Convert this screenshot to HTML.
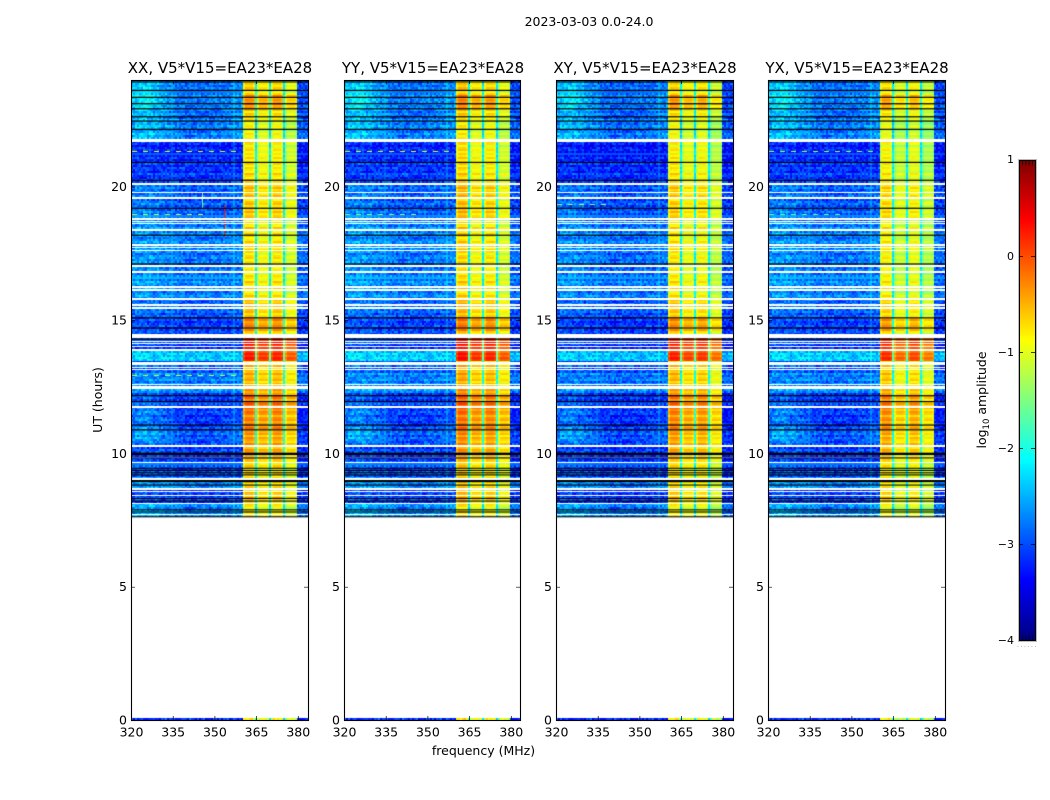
<!DOCTYPE html>
<html><head><meta charset="utf-8">
<style>
html,body{margin:0;padding:0;background:#fff;}
#fig{position:relative;width:1050px;height:800px;overflow:hidden;background:#fff;}
canvas{position:absolute;display:block;}
svg{position:absolute;left:0;top:0;}
text{font-family:"DejaVu Sans","Liberation Sans",sans-serif;fill:#000;}
</style></head>
<body>
<div id="fig">
<svg id="overlay" width="1050" height="800"></svg>
</div>
<script>
// ---- data ----
const panelTitles = ["XX, V5*V15=EA23*EA28","YY, V5*V15=EA23*EA28","XY, V5*V15=EA23*EA28","YX, V5*V15=EA23*EA28"];
const xTicks = [320,335,350,365,380];
const yTicks = [0,5,10,15,20];
const cbTicks = [1,0,-1,-2,-3,-4];
// time segments: upper edge in UT hours
const segHours = [23.96,23.62,23.36,22.87,22.5,21.75,20.93,20.06,18.75,17.62,16.69,15.75,15.07,14.5,14.29,13.87,13.42,12.94,12.19,11.62,10.87,10.31,9.67,9.07,8.62,8.06];
// log10 amplitude inside the on-band block per segment
const segOnBand = [-0.85,-0.8,-0.45,-0.8,-1.05,-0.92,-0.88,-0.75,-0.88,-0.88,-0.88,-0.75,-0.45,-0.7,0.15,0.05,-0.7,-0.65,-0.3,-0.4,-0.5,-0.6,-0.85,-0.8,-0.7,-0.95];
// log10 amplitude of the off-band background per segment
const segOffBand = [-3.0,-3.0,-2.9,-2.95,-2.9,-3.25,-3.15,-3.0,-2.8,-2.85,-2.8,-3.0,-3.15,-3.0,-3.15,-2.45,-3.0,-2.8,-3.15,-3.2,-3.05,-3.15,-3.05,-2.8,-3.1,-2.8];
// strength of the low-frequency glow per segment
const segGlow = [0.5,0.55,0.6,0.5,0.4,0.05,0.05,0.2,0.15,0.2,0.15,0.15,0.1,0.1,0.1,0.1,0.1,0.1,0.2,0.4,0.45,0.1,0.1,0.2,0.1,0.25];
// glow shape versus frequency, one value per 5 MHz from 320 MHz
const glowShape = [0.9,1.3,0.9,0.4,0.15,0.2,0.25,0.35,0.6];
// sub-bands of the bright block (MHz)
const subStart = [360.3,365.36,370.4,375.44];
const subEnd = [364.64,369.68,374.72,379.6];
// per-panel level offset of each sub-band
const xxSub = [0.16,-0.02,0.1,-0.18];
const yySub = [0.22,0.0,0.1,-0.18];
const xySub = [0.12,-0.08,0.0,-0.3];
const yxSub = [0.06,-0.25,-0.08,-0.35];
// per-panel off-band offset
const offPanel = [0,0.02,-0.05,0];
// hand-read texture lists (log10 amplitude deviations)
const chanTexture = [0.05,-0.12,0.1,-0.04,0.16,-0.16,0.02,0.08,-0.08,0.12,-0.02,-0.14,0.06,0.14,-0.1,0.03,-0.06,0.11,-0.13];
const timeTexture = [0.12,-0.1,0.22,-0.05,-0.2,0.08,0.18,-0.14,0.02,0.25,-0.18,-0.04,0.1,-0.22,0.15,0.0,-0.12,0.2,-0.08,0.06,-0.16,0.14,0.04,-0.24,0.09,0.17,-0.06];
const speckle = [0.2,-0.18,0.05,0.28,-0.3,0.12,-0.08,0.24,-0.22,0.0,0.32,-0.12,0.16,-0.26,0.08,-0.04,0.22,-0.34,0.14,0.03,-0.16,0.26,-0.06,-0.24,0.18,0.1,-0.14,0.3,-0.2,0.06,-0.1];
// flagged (white) integrations: UT hour, thickness in hours
const whiteHours = [21.72,20.09,19.76,19.58,18.79,18.7,18.6,18.39,17.81,17.71,17.61,17.03,16.8,16.25,16.13,15.8,15.56,15.44,14.41,14.19,14.1,14.01,13.9,13.39,13.23,13.15,12.59,12.49,11.75,10.29,9.85,9.66,9.06,8.66,8.55,8.41,8.13,7.7,7.56];
const whiteThick = [0.1,0.06,0.05,0.06,0.06,0.05,0.05,0.06,0.06,0.05,0.05,0.06,0.06,0.06,0.09,0.06,0.06,0.06,0.16,0.05,0.05,0.05,0.06,0.1,0.05,0.05,0.05,0.1,0.06,0.06,0.05,0.05,0.06,0.06,0.05,0.05,0.05,0.05,0.06];
// gap (black) integrations
const blackHours = [23.93,23.61,23.35,23.11,22.92,22.62,22.46,22.15,20.91,20.24,19.19,18.18,17.1,15.08,14.7,14.28,12.16,11.94,11.06,10.88,9.98,9.83,9.44,9.36,9.27,9.19,8.96,8.81,8.31,8.21,7.88,7.8,7.62];
const blackThick = [0.045,0.045,0.045,0.045,0.045,0.045,0.045,0.045,0.045,0.045,0.045,0.045,0.045,0.045,0.045,0.045,0.045,0.045,0.045,0.045,0.09,0.04,0.04,0.04,0.04,0.04,0.08,0.04,0.04,0.04,0.04,0.04,0.04];
// narrow RFI features
const rfiPanel = [0,0,0,1,3,0,1,3,0,2];
const rfiFreq = [345.5,353.6,320.5,320.5,320.5,320.5,320.5,320.5,320.5,320.5];
const rfiFreqEnd = [345.9,354.0,360,360,360,345,345,345,360,340];
const rfiStart = [19.2,18.1,21.3,21.3,21.3,18.92,18.92,18.92,12.9,19.3];
const rfiEnd = [19.75,19.3,21.35,21.35,21.35,18.97,18.97,18.97,12.95,19.35];
const rfiLevel = [-1.6,0.3,-1,-1,-1.3,-1.2,-1.4,-1.6,-1.2,-1.4];

// ---- layout ----
const panelLeft = [131,344,556,768];
const panelWidths = [177,176,177,177];
const plotTop = 80, plotH = 640;
const svgNS = "http://www.w3.org/2000/svg";
const svg = document.getElementById('overlay');
const fig = document.getElementById('fig');
const xOf = f => (f-320)*2.78;
const yOf = t => plotH - t*plotH/24;
const subs = [xxSub,yySub,xySub,yxSub];

function jet(v){
  const x = Math.min(1,Math.max(0,(v+4)/5));
  const c = t => Math.round(255*Math.min(1,Math.max(0,Math.min(4*t-1.5,-4*t+4.5))));
  return [c(x),c(x+0.25),c(x+0.5)];
}
function css(v){const j=jet(v);return 'rgb('+j[0]+','+j[1]+','+j[2]+')';}
function segIndex(t){
  let k=0;
  for(let i=0;i<segHours.length;i++){ if(t<=segHours[i]) k=i; }
  return k;
}
function add(tag,attrs,text){
  const e=document.createElementNS(svgNS,tag);
  for(const k in attrs) e.setAttribute(k,attrs[k]);
  if(text!==undefined) e.textContent=text;
  svg.appendChild(e);
  return e;
}
function cellValue(p,f,t,c,r){
  const s=segIndex(t);
  const noise=speckle[(c*5+r*11+c*r)%speckle.length];
  let band=-1;
  for(let i=0;i<4;i++){ if(f>=subStart[i]&&f<subEnd[i]) band=i; }
  if(band>=0){
    const edge=(f-subStart[band]<0.7)?-0.25:((subEnd[band]-f<0.7)?-0.12:0);
    return segOnBand[s]+subs[p][band]+edge+timeTexture[r%timeTexture.length]*0.9+noise*0.1;
  }
  if(f>=360.3&&f<379.6) return -2.15+(segOnBand[s]+0.8)*0.6+noise*0.5;
  let v=segOffBand[s]+offPanel[p]+timeTexture[r%timeTexture.length]*0.7+chanTexture[c%chanTexture.length]*0.25+noise;
  if(f<360.3){
    const g=(f-320)/5, i=Math.min(glowShape.length-2,Math.floor(g));
    v+=segGlow[s]*(glowShape[i]+(glowShape[i+1]-glowShape[i])*(g-i));
  } else { v-=0.05; }
  return v;
}

const chanW = 0.72, rowH = 0.075;
panelLeft.forEach(function(left,p){
  const panelW=panelWidths[p];
  const cv=document.createElement('canvas');
  
  
  cv.width=panelW; cv.height=plotH;
  cv.style.left=left+'px'; cv.style.top=plotTop+'px';
  fig.insertBefore(cv,svg);
  const g=cv.getContext('2d');
  g.fillStyle='#fff'; g.fillRect(0,0,panelW,plotH);
  const nc=Math.ceil(64/chanW);
  // data rows
  for(let r=0;7.6+r*rowH<24;r++){
    const t=7.6+r*rowH;
    const y0=Math.round(yOf(t+rowH)), y1=Math.round(yOf(t));
    for(let c=0;c<nc;c++){
      const f=320+c*chanW;
      const x0=Math.round(xOf(f)), x1=Math.round(xOf(f+chanW));
      g.fillStyle=css(cellValue(p,f+chanW/2,t,c,r));
      g.fillRect(x0,y0,x1-x0,y1-y0);
    }
  }
  // integration at 0 h along the axis
  for(let c=0;c<nc;c++){
    const f=320+c*chanW;
    const x0=Math.round(xOf(f)), x1=Math.round(xOf(f+chanW));
    g.fillStyle=css(cellValue(p,f+chanW/2,21,c,c));
    g.fillRect(x0,plotH-2,x1-x0,2);
  }
  // RFI
  rfiPanel.forEach(function(q,i){
    if(q!==p) return;
    g.fillStyle=css(rfiLevel[i]);
    const x0=xOf(rfiFreq[i]), w=xOf(rfiFreqEnd[i])-x0;
    const y0=yOf(rfiEnd[i]), h=yOf(rfiStart[i])-y0;
    if(w<5){ g.fillRect(Math.round(x0),Math.round(y0),Math.max(1,Math.round(w)),Math.round(h)); }
    else { for(let x=x0;x<x0+w;x+=11){ g.fillRect(Math.round(x),Math.round(y0),5,Math.max(1,Math.round(h))); } }
  });
  // flagged rows
  g.fillStyle='#fff';
  whiteHours.forEach(function(t,i){
    const y0=Math.round(yOf(t+whiteThick[i]/2)), h=Math.max(1,Math.round(whiteThick[i]*plotH/24));
    g.fillRect(0,y0,panelW,h);
  });
  g.fillStyle='#000';
  blackHours.forEach(function(t,i){
    const y0=yOf(t+blackThick[i]/2), h=blackThick[i]*plotH/24;
    g.fillRect(0,y0,panelW,h);
  });

  // frame and ticks
  const f=add('rect',{x:left+0.5,y:plotTop+0.5,width:panelW,height:plotH,fill:'none',stroke:'#000','stroke-width':1.1});
  
  
  xTicks.forEach(function(v){
    const x=left+xOf(v)+0.5;
    const t1=add('path',{d:'M'+x+' '+(plotTop+plotH)+'v-4M'+x+' '+plotTop+'v4',stroke:'#000','stroke-width':0.7,fill:'none'});
    
    
    const l=add('text',{x:left+xOf(v)+0.5,y:736.5,'text-anchor':'middle','font-size':12.5},String(v));
    
    
  });
  yTicks.forEach(function(v){
    const y=plotTop+yOf(v)+0.5;
    const t1=add('path',{d:'M'+left+' '+y+'h4M'+(left+panelW)+' '+y+'h-4',stroke:'#000','stroke-width':0.7,fill:'none'});
    
    
    const l=add('text',{x:left-4,y:y+4,'text-anchor':'end','font-size':12.5},String(v));
    
    
  });
  const tt=add('text',{x:left+89,y:73,'text-anchor':'middle','font-size':15},panelTitles[p]);
  
  
});

// figure labels
const supT=add('text',{x:589,y:26,'text-anchor':'middle','font-size':12.5},'2023-03-03 0.0-24.0');


const xLab=add('text',{x:483.5,y:755,'text-anchor':'middle','font-size':12.5},'frequency (MHz)');


const yLab=add('text',{x:0,y:0,'text-anchor':'middle','font-size':12.5,transform:'translate(102,400) rotate(-90)'},'UT (hours)');



// colorbar
const cbX=1019, cbY=160, cbW=16, cbH=480;
const cb=document.createElement('canvas');


cb.width=cbW; cb.height=cbH;
cb.style.left=cbX+'px'; cb.style.top=cbY+'px';
fig.insertBefore(cb,svg);
const cg=cb.getContext('2d');
for(let i=0;i<cbH;i++){ cg.fillStyle=css(1-5*(i+0.5)/cbH); cg.fillRect(0,i,cbW,1); }
const cbFrame=add('rect',{x:cbX+0.5,y:cbY+0.5,width:cbW,height:cbH,fill:'none',stroke:'#000','stroke-width':1});


const cbGrey=add('rect',{x:cbX-0.5,y:cbY-0.5,width:cbW+2,height:cbH+2,fill:'none',stroke:'#bbb','stroke-width':1});


cbTicks.forEach(function(v){
  const y=cbY+(1-v)/5*cbH;
  const yy=Math.round(y)+0.5;
  if(v<1&&v>-4){
    const t=add('path',{d:'M'+cbX+' '+yy+'h4M'+(cbX+cbW)+' '+yy+'h-4',stroke:'#000','stroke-width':0.8,fill:'none'});
    
    
  } else {
    const dir=v===1?1:-1;
    for(let i=1;i<=4;i++){
      const t=add('path',{d:'M'+(cbX+i*3.2+0.5)+' '+yy+'v'+(dir*5),stroke:'#000','stroke-width':0.7,fill:'none'});
      
      
    }
  }
  const label=(v<0?'\u2212':'')+Math.abs(v);
  const l=add('text',{x:cbX-5,y:y+(v===1?3:4),'text-anchor':'end','font-size':11},label);
  
  
});
const dots=add('text',{x:cbX-2,y:647,'font-size':6,'letter-spacing':1.6,style:'fill:#777'},'......');


const cbLab=add('text',{x:0,y:0,'text-anchor':'middle','font-size':12.5,transform:'translate(986,400) rotate(-90)'});


const t1=document.createElementNS(svgNS,'tspan'); t1.textContent='log';
const t2=document.createElementNS(svgNS,'tspan'); t2.textContent='10'; t2.setAttribute('dy','3'); t2.setAttribute('font-size','8.5');
const t3=document.createElementNS(svgNS,'tspan'); t3.textContent=' amplitude'; t3.setAttribute('dy','-3');
cbLab.appendChild(t1); cbLab.appendChild(t2); cbLab.appendChild(t3);
</script>
</body></html>
